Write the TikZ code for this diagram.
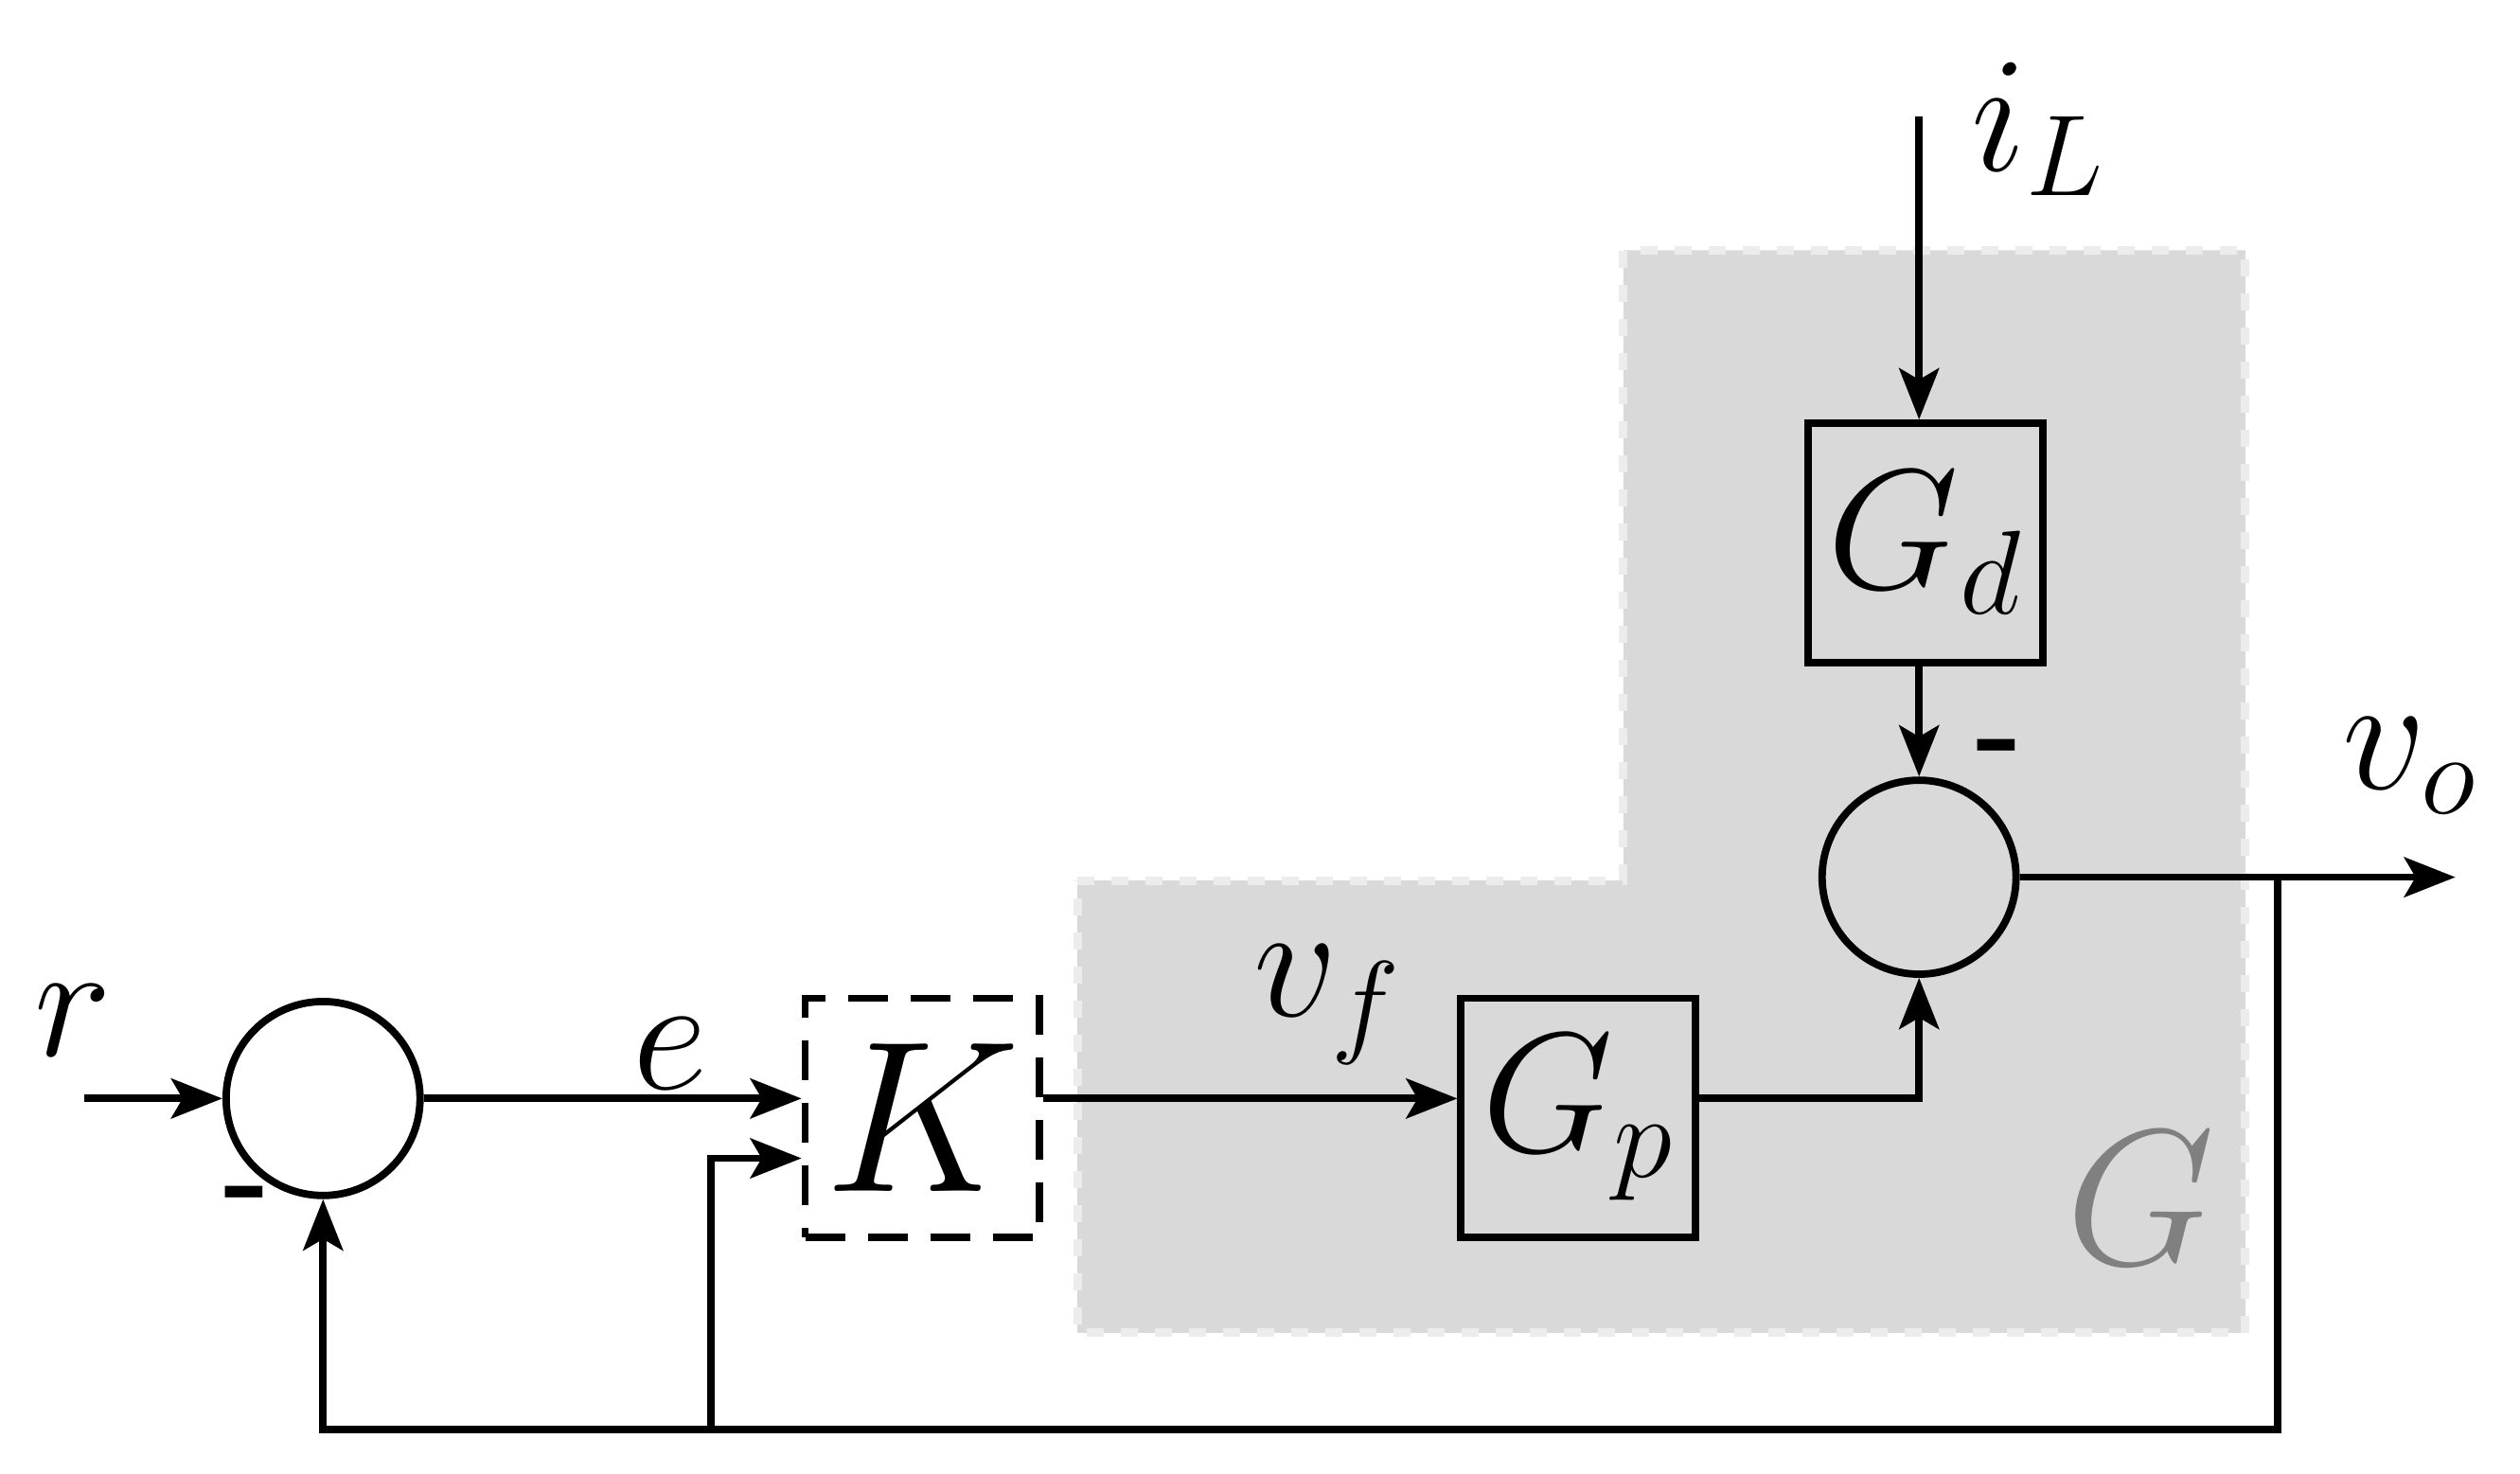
\RequirePackage{fix-cm}
\documentclass[tikz,border=0pt]{standalone}
\usetikzlibrary{arrows.meta}
\begin{document}
\begin{tikzpicture}[x=0.01cm,y=-0.01cm,line width=1.3pt,
  blk/.style={draw,minimum width=1.45cm,minimum height=1.48cm,inner sep=0pt,line width=1.3pt},
  sum/.style={draw,circle,minimum size=1.2cm,inner sep=0pt,line width=1.3pt},
  arr/.style={-{Stealth[length=9pt,width=7pt,inset=2pt]}},
  lab/.style={font=\fontsize{29}{36}\selectfont},
  bl/.style={font=\fontsize{30}{36}\selectfont}]
\useasboundingbox (0,0) rectangle (1560,912);
\fill[gray!30] (667,545) -- (1005,545) -- (1005,155) -- (1390,155) -- (1390,825) -- (667,825) -- cycle;
\draw[gray!15,dashed,line width=1.5pt] (667,545) -- (1005,545) -- (1005,155) -- (1390,155) -- (1390,825) -- (667,825) -- cycle;
\node[gray,font=\fontsize{34}{40}\selectfont] (glab) at (1325,742) {$G$};
\node[sum] (s1) at (200,680) {};
\node[sum] (s2) at (1188,543) {};
\node[blk,dash pattern=on 7pt off 4pt,font=\fontsize{38}{46}\selectfont] (K) at (571,692) {$K$};
\node[blk,bl] (Gp) at (977,692) {$G_p$};
\node[blk,bl] (Gd) at (1192,336) {$G_d$};
\coordinate (rin) at (52,680);
\coordinate (iin) at (1188,72);
\coordinate (vout) at (1520,543);
\coordinate (tap) at (1410,543);
\coordinate (fb1) at (1410,885);
\coordinate (fb2) at (200,885);
\coordinate (fbK) at (440,885);
\coordinate (Kin2) at (440,717);
\coordinate (c1) at (1188,680);
\draw[arr] (rin) -- (s1.west);
\draw[arr] (s1.east) -- (K.west |- s1);
\draw[arr] (fbK) -- (Kin2) -- (K.west |- Kin2);
\draw[arr] (K.east |- s1) -- (Gp.west |- s1);
\draw[arr] (Gp.east |- c1) -- (c1) -- (s2.south);
\draw[arr] (Gd.south -| s2) -- (s2.north);
\draw[arr] (iin) -- (iin |- Gd.north);
\draw[arr] (s2.east) -- (vout);
\draw[arr] (tap) -- (fb1) -- (fb2) -- (s1.south);
\node[lab] (rl) at (45,632) {$r$};
\node[lab] (el) at (415,652) {$e$};
\node[lab] (vfl) at (822,622) {$v_f$};
\node[lab] (il) at (1262,80) {$i_L$};
\node[lab] (vol) at (1492,474) {$v_o$};
\node[font=\bfseries\fontsize{22}{26}\selectfont] (m1) at (153,745) {-};
\node[font=\bfseries\fontsize{22}{26}\selectfont] (m2) at (1238,468) {-};
\end{tikzpicture}
\end{document}
